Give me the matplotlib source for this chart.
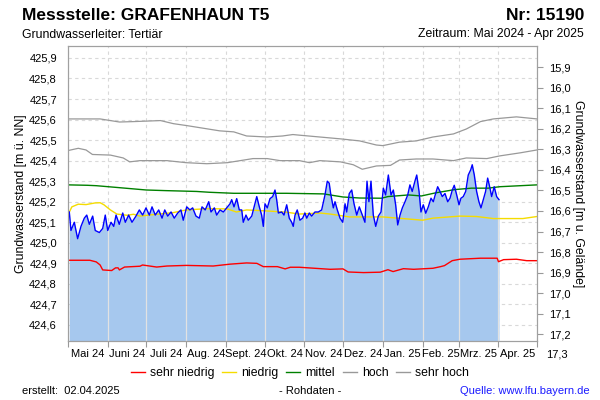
import matplotlib
matplotlib.use("Agg")
import matplotlib.pyplot as plt
import matplotlib.dates as mdates
from matplotlib.lines import Line2D
import pandas as pd

plt.rcParams['font.family'] = ['Liberation Sans', 'DejaVu Sans']

# Tage ab 01.05.2024
roh_tage = [1.0, 2.3, 4.9, 7.5, 10.1, 12.7, 14.6, 16.6, 19.2, 21.2, 24.4, 27.0, 29.0, 30.9, 33.5,
            35.6, 37.4, 39.9, 42.6, 44.6, 47.2, 49.8, 52.9, 55.5, 58.1, 60.7, 63.3, 65.4, 67.9,
            70.6, 73.2, 75.3, 77.6, 80.2, 82.7, 85.4, 87.9, 89.7, 92.4, 94.9, 97.0, 99.6, 102.2,
            104.3, 106.8, 109.5, 111.3, 113.9, 115.7, 118.3, 120.9, 123.5, 126.1, 127.4, 129.2,
            131.3, 133.3, 135.2, 136.4, 138.5, 140.3, 143.0, 145.5, 146.9, 148.9, 150.7, 152.0,
            153.3, 155.1, 157.2, 159.3, 161.1, 162.4, 163.7, 166.3, 168.1, 170.2, 172.2, 174.1,
            175.3, 176.7, 178.4, 180.5, 182.6, 184.4, 185.8, 187.8, 189.6, 192.2, 194.8, 197.4,
            200.0, 201.8, 203.3, 204.4, 206.5, 207.8, 209.6, 211.7, 213.8, 215.6, 216.9, 218.9,
            220.8, 222.6, 224.7, 226.7, 229.0, 231.1, 232.7, 234.2, 235.8, 237.6, 239.5, 241.5,
            243.6, 245.4, 247.2, 249.3, 251.4, 253.2, 255.0, 256.6, 258.4, 260.2, 262.3, 264.4,
            266.1, 267.9, 270.0, 271.4, 273.2, 274.7, 276.5, 278.4, 280.4, 282.5, 284.3, 286.1,
            287.7, 289.5, 291.3, 293.4, 295.5, 297.3, 299.1, 300.6, 302.5, 304.3, 305.8, 307.6,
            309.5, 311.5, 313.4, 314.6, 316.2, 318.0, 319.8, 321.4, 323.2, 325.0, 326.6, 328.4,
            329.7, 331.7, 333.6, 335.4]
roh_werte = [425.15, 425.06, 425.10, 425.02, 425.08, 425.12, 425.135, 425.09, 425.13, 425.06, 425.05,
             425.07, 425.135, 425.06, 425.10, 425.08, 425.135, 425.09, 425.145, 425.10, 425.135,
             425.10, 425.13, 425.16, 425.135, 425.17, 425.135, 425.175, 425.135, 425.16, 425.12,
             425.16, 425.13, 425.15, 425.12, 425.145, 425.16, 425.11, 425.175, 425.16, 425.17,
             425.13, 425.12, 425.175, 425.16, 425.20, 425.15, 425.17, 425.135, 425.16, 425.15,
             425.17, 425.19, 425.21, 425.175, 425.215, 425.16, 425.16, 425.10, 425.135, 425.11,
             425.13, 425.19, 425.225, 425.175, 425.135, 425.08, 425.19, 425.17, 425.215, 425.225,
             425.257, 425.21, 425.145, 425.15, 425.135, 425.185, 425.12, 425.10, 425.08, 425.135,
             425.16, 425.11, 425.12, 425.145, 425.12, 425.145, 425.13, 425.15, 425.15, 425.16,
             425.233, 425.30, 425.29, 425.24, 425.17, 425.20, 425.16, 425.12, 425.10, 425.19,
             425.15, 425.24, 425.257, 425.19, 425.135, 425.175, 425.135, 425.10, 425.30, 425.20,
             425.30, 425.135, 425.08, 425.13, 425.15, 425.266, 425.233, 425.33, 425.233, 425.257,
             425.185, 425.087, 425.135, 425.17, 425.20, 425.233, 425.282, 425.25, 425.30, 425.33,
             425.25, 425.15, 425.185, 425.144, 425.175, 425.217, 425.20, 425.24, 425.273, 425.25,
             425.225, 425.24, 425.20, 425.217, 425.257, 425.28, 425.233, 425.185, 425.217, 425.225,
             425.25, 425.33, 425.355, 425.38, 425.33, 425.25, 425.20, 425.17, 425.21, 425.25,
             425.315, 425.266, 425.225, 425.273, 425.225, 425.21]

sh_tage = [0, 25, 40, 51, 72, 82, 93, 103, 118, 129, 139, 155, 167, 175, 180, 196, 212, 227, 240,
           245, 258, 271, 284, 300, 310, 321, 331, 349, 365]
sh_werte = [425.603, 425.603, 425.588, 425.59, 425.595, 425.58, 425.57, 425.56, 425.545, 425.54,
            425.52, 425.515, 425.52, 425.527, 425.524, 425.515, 425.506, 425.496, 425.476, 425.473,
            425.49, 425.496, 425.515, 425.53, 425.554, 425.59, 425.603, 425.613, 425.603]

h_tage = [0, 8, 14, 19, 33, 43, 48, 56, 77, 92, 108, 124, 134, 144, 155, 165, 180, 188, 196, 212,
          222, 229, 240, 251, 258, 271, 284, 300, 310, 326, 336, 352, 365]
h_werte = [425.449, 425.46, 425.452, 425.43, 425.427, 425.413, 425.394, 425.40, 425.40, 425.39,
           425.385, 425.39, 425.40, 425.41, 425.41, 425.40, 425.40, 425.39, 425.40, 425.394, 425.38,
           425.358, 425.374, 425.377, 425.403, 425.408, 425.408, 425.40, 425.413, 425.41, 425.423,
           425.438, 425.452]

m_tage = [0, 15, 22, 37, 61, 76, 100, 110, 129, 170, 199, 214, 227, 244, 249, 265, 275, 286, 301,
          314, 327, 336, 365]
m_werte = [425.282, 425.28, 425.278, 425.27, 425.257, 425.254, 425.25, 425.246, 425.241, 425.241,
           425.238, 425.223, 425.218, 425.217, 425.225, 425.233, 425.228, 425.243, 425.259, 425.266,
           425.266, 425.273, 425.282]

n_tage = [0, 3, 8, 14, 21, 25, 28, 33, 38, 46, 51, 56, 66, 82, 92, 108, 124, 131, 139, 155, 170,
          180, 196, 204, 219, 245, 276, 284, 305, 318, 331, 354, 365]
n_werte = [425.136, 425.175, 425.188, 425.186, 425.194, 425.195, 425.185, 425.16, 425.14, 425.134,
           425.139, 425.13, 425.137, 425.147, 425.16, 425.166, 425.165, 425.15, 425.16, 425.155,
           425.149, 425.14, 425.145, 425.14, 425.126, 425.126, 425.11, 425.12, 425.13, 425.128,
           425.118, 425.118, 425.128]

sn_tage = [0, 17, 22, 25, 27, 34, 37, 39, 40, 44, 56, 58, 69, 77, 92, 113, 126, 139, 147, 152, 163,
           169, 173, 180, 204, 214, 218, 230, 243, 249, 253, 261, 269, 284, 290, 293, 299, 305, 321,
           334, 335, 339, 349, 357, 365]
sn_werte = [424.915, 424.915, 424.907, 424.892, 424.868, 424.865, 424.878, 424.878, 424.868, 424.882,
            424.886, 424.892, 424.882, 424.887, 424.89, 424.887, 424.896, 424.902, 424.90, 424.884,
            424.884, 424.873, 424.881, 424.881, 424.871, 424.873, 424.858, 424.855, 424.857, 424.869,
            424.86, 424.874, 424.871, 424.876, 424.884, 424.889, 424.913, 424.92, 424.925, 424.925,
            424.908, 424.918, 424.92, 424.913, 424.913]

monate = ["Mai 24", "Juni 24", "Juli 24", "Aug. 24", "Sept. 24", "Okt. 24", "Nov. 24", "Dez. 24",
          "Jan. 25", "Feb. 25", "Mrz. 25", "Apr. 25"]
links_ticks = [424.6, 424.7, 424.8, 424.9, 425.0, 425.1, 425.2, 425.3, 425.4, 425.5, 425.6, 425.7,
               425.8, 425.9]
rechts_ticks = [15.9, 16.0, 16.1, 16.2, 16.3, 16.4, 16.5, 16.6, 16.7, 16.8, 16.9, 17.0, 17.1, 17.2]
gelaende = 441.755
y_min = 424.522
y_max = 425.958

start = pd.Timestamp("2024-05-01")
ende = pd.Timestamp("2025-05-01")


def datum(tage):
    return start + pd.to_timedelta(tage, unit="D")


def komma(v, p=None):
    return ("%.1f" % v).replace(".", ",")


fig = plt.figure(figsize=(6, 4), dpi=100)
ax = fig.add_axes([68 / 600, 1 - 341 / 400, 469 / 600, 295 / 400])
ax.set_xlim(start, ende)
ax.set_ylim(y_min, y_max)

gitter = '#d9d9d9'
ax.set_axisbelow(True)
ax.grid(True, color=gitter, linestyle=(0, (3, 3)), linewidth=0.8)

x_roh = datum(roh_tage)
flaeche = ax.fill_between(x_roh, roh_werte, y_min, color='#a6c8ee', lw=0, zorder=1)

# helle Monatslinien in der Flaeche
monatsanfang = pd.date_range(start, ende, freq="MS")
for d in monatsanfang[1:-1]:
    l = ax.axvline(d, color='#e2e2e2', lw=0.9, zorder=1.5)
    l.set_clip_path(flaeche.get_paths()[0], transform=ax.transData)

ax.plot(datum(sh_tage), sh_werte, color='#999999', lw=0.9, zorder=2)
ax.plot(datum(h_tage), h_werte, color='#999999', lw=0.9, zorder=2)
ax.plot(datum(m_tage), m_werte, color='#008000', lw=1.0, zorder=2)
ax.plot(datum(n_tage), n_werte, color='#f5dc00', lw=1.0, zorder=2)
ax.plot(datum(sn_tage), sn_werte, color='#ff0000', lw=1.0, zorder=2)
ax.plot(x_roh, roh_werte, color='#0000ff', lw=1.0, zorder=3)

ax.set_yticks(links_ticks)
ax.yaxis.set_major_formatter(plt.FuncFormatter(komma))
ax.tick_params(axis='y', length=0, pad=8, labelsize=8)

ax.set_xticks(monatsanfang)
ax.set_xticklabels([])
mitten = [monatsanfang[i] + (monatsanfang[i + 1] - monatsanfang[i]) / 2 for i in range(12)]
ax.set_xticks(mitten, minor=True)
ax.set_xticklabels(monate, minor=True)
ax.tick_params(axis='x', which='major', length=4, color='#999999')
ax.tick_params(axis='x', which='minor', length=0, labelsize=8, pad=6)

for s in ax.spines.values():
    s.set_color('#a0a0a0')

ax2 = ax.twinx()
ax2.set_ylim(gelaende - y_min, gelaende - y_max)
ax2.set_yticks(rechts_ticks)
ax2.yaxis.set_major_formatter(plt.FuncFormatter(komma))
ax2.tick_params(axis='y', length=4, color='#999999', pad=5, labelsize=8)
ax2.text(1.0 + 9 / 469, 17.3, komma(17.3), transform=ax2.get_yaxis_transform(),
         ha='left', va='center', fontsize=8, clip_on=False)
for s in ax2.spines.values():
    s.set_color('#a0a0a0')

fig.text(22 / 600, 1 - 20 / 400, "Messstelle: GRAFENHAUN T5", fontsize=12.5, fontweight='bold',
         ha='left', va='baseline')
fig.text(584 / 600, 1 - 20 / 400, "Nr: 15190", fontsize=12.5, fontweight='bold',
         ha='right', va='baseline')
fig.text(22 / 600, 1 - 37.5 / 400, "Grundwasserleiter: Tertiär", fontsize=8.8,
         ha='left', va='baseline')
fig.text(584 / 600, 1 - 37.5 / 400, "Zeitraum: Mai 2024 - Apr 2025", fontsize=8.8,
         ha='right', va='baseline')
fig.text(21 / 600, 1 - 193.5 / 400, "Grundwasserstand [m ü. NN]", fontsize=8.8, rotation=90,
         ha='center', va='center')
fig.text(578 / 600, 1 - 193.5 / 400, "Grundwasserstand [m u. Gelände]", fontsize=8.8,
         rotation=-90, ha='center', va='center')

griffe = [Line2D([], [], color='#ff0000', lw=1),
          Line2D([], [], color='#f5dc00', lw=1),
          Line2D([], [], color='#008000', lw=1),
          Line2D([], [], color='#999999', lw=1),
          Line2D([], [], color='#999999', lw=1)]
fig.legend(griffe, ["sehr niedrig", "niedrig", "mittel", "hoch", "sehr hoch"],
           loc='center', bbox_to_anchor=(0.5, 1 - 373 / 400), ncol=5, frameon=False,
           fontsize=8.8, handlelength=1.15, handletextpad=0.4, columnspacing=0.65)

fig.text(22 / 600, 1 - 391 / 400, "erstellt:  02.04.2025", fontsize=8, ha='left', va='center')
fig.text(310 / 600, 1 - 391 / 400, "- Rohdaten -", fontsize=8, ha='center', va='center')
fig.text(590 / 600, 1 - 391 / 400, "Quelle: www.lfu.bayern.de", fontsize=8, color='#1a1aff',
         ha='right', va='center')

fig.savefig("out.png", dpi=100)
